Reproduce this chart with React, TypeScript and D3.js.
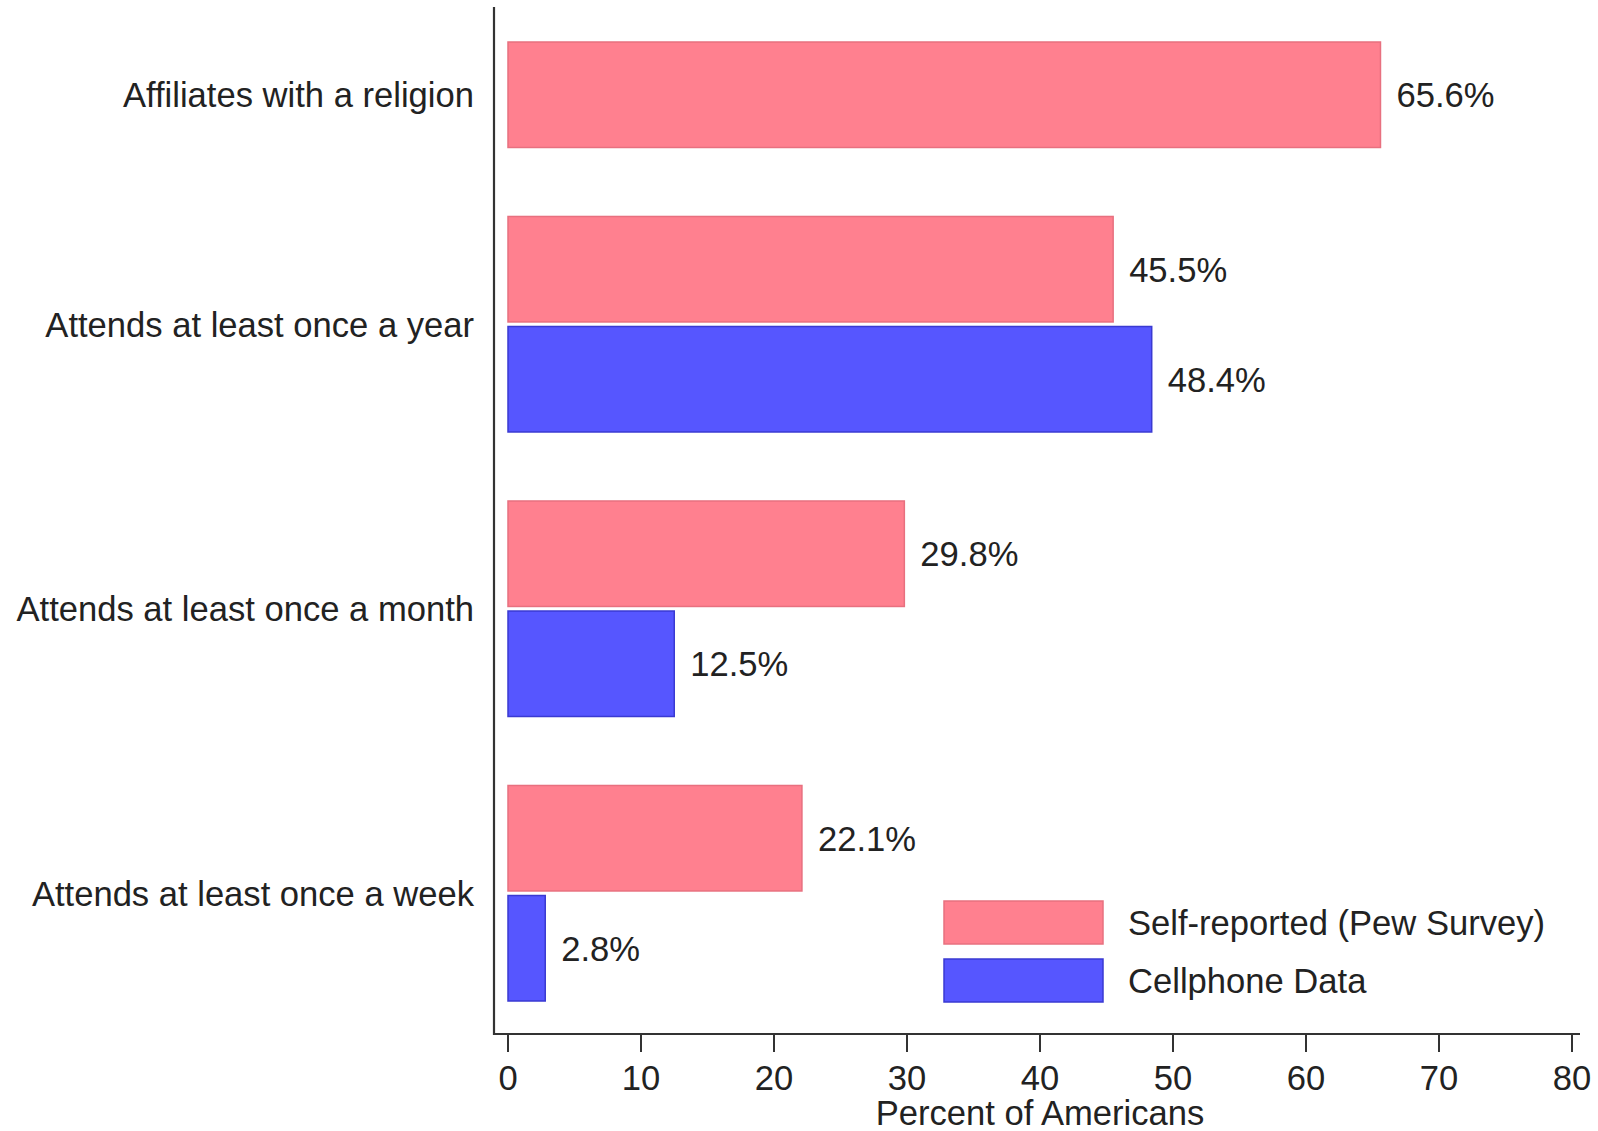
import React from "react";
import * as d3 from "d3";

const categories = [
  "Affiliates with a religion",
  "Attends at least once a year",
  "Attends at least once a month",
  "Attends at least once a week",
];
const selfReported: (number | null)[] = [65.6, 45.5, 29.8, 22.1];
const cellphone: (number | null)[] = [null, 48.4, 12.5, 2.8];
const seriesNames = ["Self-reported (Pew Survey)", "Cellphone Data"];
const xTicks = [0, 10, 20, 30, 40, 50, 60, 70, 80];
const axisTitle = "Percent of Americans";

const W = 1598;
const H = 1131;
const FONT = "'Liberation Sans', Arial, sans-serif";
const FS = 34.6;
const TEXT = "#222";
const PINK = "#ff808f";
const PINK_EDGE = "#e8707f";
const BLUE = "#5656ff";
const BLUE_EDGE = "#3a3ad2";

export default function App() {
  const x = d3.scaleLinear().domain([0, 80]).range([508, 1572]);

  // vertical layout in "units": bar = 1, inner gap, group gap
  const innerGap = 0.043;
  const groupGap = 0.654;
  type Bar = { cat: number; s: number; v: number; u0: number };
  const bars: Bar[] = [];
  const groupSpan: [number, number][] = [];
  let u = 0;
  categories.forEach((_, i) => {
    const vals = [selfReported[i], cellphone[i]];
    const start = u;
    let first = true;
    vals.forEach((v, s) => {
      if (v == null) return;
      if (!first) u += innerGap;
      bars.push({ cat: i, s, v, u0: u });
      u += 1;
      first = false;
    });
    groupSpan.push([start, u]);
    if (i < categories.length - 1) u += groupGap;
  });
  const y = d3.scaleLinear().domain([0, u]).range([42, 1001]);
  const bh = y(1) - y(0);

  const axisY = 1034;
  const axisLeft = 494;

  return (
    <div style={{ position: "absolute", left: 0, top: 0, width: W, height: H, background: "#fff" }}>
      <svg width={W} height={H} style={{ display: "block" }} fontFamily={FONT}>
        <rect x={0} y={0} width={W} height={H} fill="#fff" />
        {bars.map((b, i) => (
          <rect
            key={i}
            x={x(0)}
            y={y(b.u0)}
            width={x(b.v) - x(0)}
            height={bh}
            fill={b.s === 0 ? PINK : BLUE}
            stroke={b.s === 0 ? PINK_EDGE : BLUE_EDGE}
            strokeWidth={1.5}
          />
        ))}
        {bars.map((b, i) => (
          <text
            key={"v" + i}
            x={x(b.v) + 16}
            y={y(b.u0 + 0.5)}
            dy="0.36em"
            fontSize={FS}
            fill={TEXT}
          >
            {b.v.toFixed(1) + "%"}
          </text>
        ))}
        {categories.map((c, i) => (
          <text
            key={"c" + i}
            x={474}
            y={y((groupSpan[i][0] + groupSpan[i][1]) / 2)}
            dy="0.36em"
            textAnchor="end"
            fontSize={FS}
            fill={TEXT}
          >
            {c}
          </text>
        ))}
        {/* axes */}
        <line x1={axisLeft} x2={axisLeft} y1={7} y2={axisY + 1} stroke="#333" strokeWidth={2.2} />
        <line x1={axisLeft - 1} x2={1580} y1={axisY} y2={axisY} stroke="#333" strokeWidth={2.2} />
        {xTicks.map((t) => (
          <g key={"t" + t}>
            <line x1={x(t)} x2={x(t)} y1={axisY} y2={axisY + 18} stroke="#333" strokeWidth={2} />
            <text x={x(t)} y={1090} textAnchor="middle" fontSize={FS} fill={TEXT}>
              {t}
            </text>
          </g>
        ))}
        <text x={(x(0) + x(80)) / 2} y={1125} textAnchor="middle" fontSize={FS} fill={TEXT}>
          {axisTitle}
        </text>
        {/* legend */}
        {seriesNames.map((n, i) => (
          <g key={"l" + i}>
            <rect
              x={944}
              y={i === 0 ? 901 : 959}
              width={159}
              height={43}
              fill={i === 0 ? PINK : BLUE}
              stroke={i === 0 ? PINK_EDGE : BLUE_EDGE}
              strokeWidth={1.5}
            />
            <text x={1128} y={i === 0 ? 922.5 : 980.5} dy="0.36em" fontSize={FS} fill={TEXT}>
              {n}
            </text>
          </g>
        ))}
      </svg>
    </div>
  );
}
